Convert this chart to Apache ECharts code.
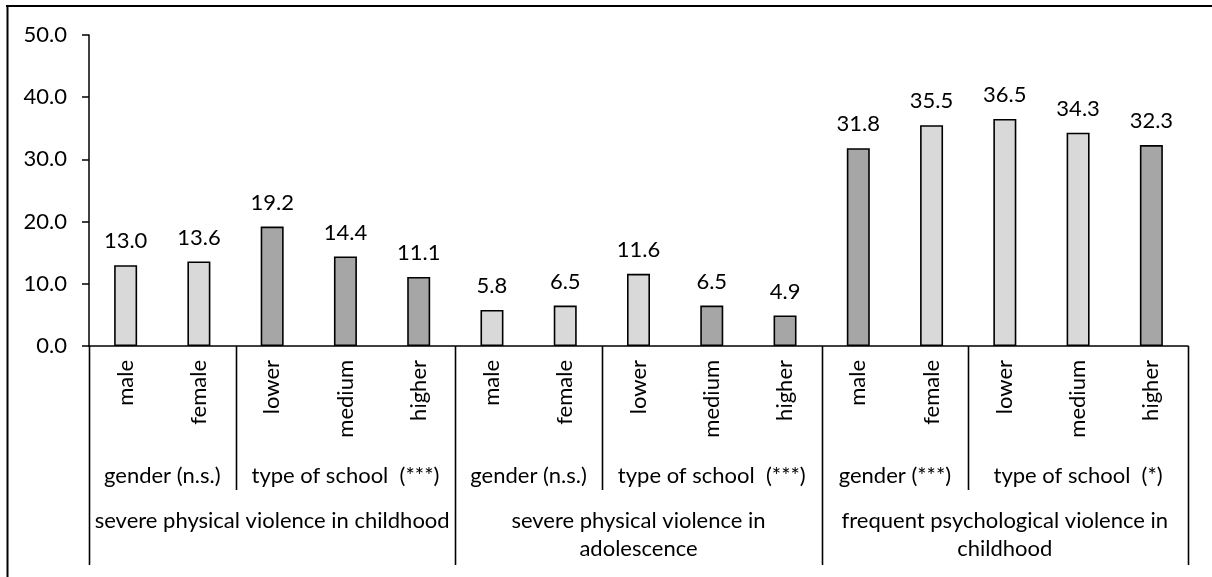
<!DOCTYPE html>
<html>
<head>
<meta charset="utf-8">
<title>Violence experiences by gender and type of school</title>
<script src="https://cdn.jsdelivr.net/npm/echarts@6/dist/echarts.min.js"></script>
<style>
  html, body { margin: 0; padding: 0; background: #fff; }
  #chart { width: 1212px; height: 577px; }
</style>
</head>
<body>
<div id="chart"></div>
<script>
// Bar categories (labels under each bar)
const categories = [
  'male', 'female', 'lower', 'medium', 'higher',
  'male', 'female', 'lower', 'medium', 'higher',
  'male', 'female', 'lower', 'medium', 'higher'
];

// Percentages shown above the bars
const values = [13.0, 13.6, 19.2, 14.4, 11.1, 5.8, 6.5, 11.6, 6.5, 4.9, 31.8, 35.5, 36.5, 34.3, 32.3];

// Fill shade of each bar
const shades = [
  'light', 'light', 'dark', 'dark', 'dark',
  'light', 'light', 'light', 'dark', 'dark',
  'dark', 'light', 'light', 'light', 'dark'
];

// Second label row: comparison groups, spanning [from, to) category slots
const subgroupLabels = ['gender (n.s.)', 'type of school  (***)', 'gender (n.s.)', 'type of school  (***)', 'gender (***)', 'type of school  (*)'];
const subgroupFrom = [0, 2, 5, 7, 10, 12];
const subgroupTo = [2, 5, 7, 10, 12, 15];

// Third label row: outcome measures
const topicLabels = ['severe physical violence in childhood', 'severe physical violence in\nadolescence', 'frequent psychological violence in\nchildhood'];
const topicFrom = [0, 5, 10];
const topicTo = [5, 10, 15];

// Y axis range
const yMin = 0, yMax = 50, yStep = 10;

const FONT = 'Lato, "Liberation Sans", sans-serif';
const FS = 22;
const fills = { light: '#d9d9d9', dark: '#a6a6a6' };

// Layout of the plot and label band
const plotLeft = 89, plotRight = 24, plotTop = 35, plotBottom = 346;
const bandBottom = 565;
const bandH = bandBottom - plotBottom;
const subSepEnd = (490 - plotBottom) / bandH;   // fraction of band height
const subTextTop = (462 - plotBottom) / bandH;
const topicTextTop = (507 - plotBottom) / bandH;

const chart = echarts.init(document.getElementById('chart'), null, { renderer: 'canvas' });

// Separator lines: inner ones between comparison groups, full ones between measures
const separators = [];
topicFrom.forEach(f => separators.push([f, 1]));
separators.push([topicTo[topicTo.length - 1], 1]);
subgroupFrom.forEach(f => { if (topicFrom.indexOf(f) < 0) separators.push([f, subSepEnd]); });

const bandLabels = [];
subgroupLabels.forEach((t, i) => bandLabels.push([subgroupFrom[i], subgroupTo[i], subTextTop, t]));
topicLabels.forEach((t, i) => bandLabels.push([topicFrom[i], topicTo[i], topicTextTop, t]));

const option = {
  animation: false,
  backgroundColor: '#fff',
  textStyle: { fontFamily: FONT, color: '#000' },
  graphic: [
    { type: 'line', shape: { x1: 6, y1: 6, x2: 1212, y2: 6 }, style: { stroke: '#000', lineWidth: 2 } },
    { type: 'line', shape: { x1: 7.5, y1: 5, x2: 7.5, y2: 577 }, style: { stroke: '#000', lineWidth: 2 } }
  ],
  grid: [
    { left: plotLeft, right: plotRight, top: plotTop, height: plotBottom - plotTop, containLabel: false },
    { left: plotLeft, right: plotRight, top: plotBottom, height: bandH, containLabel: false }
  ],
  xAxis: [
    {
      type: 'category',
      gridIndex: 0,
      data: categories,
      axisLine: { lineStyle: { color: '#000', width: 1.5 } },
      axisTick: { show: false },
      axisLabel: {
        interval: 0, rotate: 90, margin: 14,
        color: '#000', fontFamily: FONT, fontSize: FS
      },
      splitLine: { show: false }
    },
    {
      type: 'value', gridIndex: 1, min: 0, max: categories.length,
      show: false
    }
  ],
  yAxis: [
    {
      type: 'value', gridIndex: 0,
      min: yMin, max: yMax, interval: yStep,
      axisLine: { show: true, lineStyle: { color: '#000', width: 1.5 } },
      axisTick: { show: true, inside: false, length: 7, lineStyle: { color: '#000', width: 1.5 } },
      axisLabel: {
        margin: 22, color: '#000', fontFamily: FONT, fontSize: FS,
        formatter: v => v.toFixed(1)
      },
      splitLine: { show: false }
    },
    {
      type: 'value', gridIndex: 1, min: 0, max: 1, inverse: true, show: false
    }
  ],
  series: [
    {
      type: 'bar',
      xAxisIndex: 0, yAxisIndex: 0,
      barWidth: 23,
      data: values.map((v, i) => ({
        value: v,
        itemStyle: { color: fills[shades[i]] }
      })),
      itemStyle: { borderColor: '#000', borderWidth: 1.6 },
      label: {
        show: true, position: 'top', distance: 13,
        color: '#000', fontFamily: FONT, fontSize: FS,
        formatter: p => p.value.toFixed(1)
      }
    },
    {
      type: 'custom',
      xAxisIndex: 1, yAxisIndex: 1,
      silent: true,
      data: separators,
      renderItem: (params, api) => {
        const a = api.coord([api.value(0), 0]);
        const b = api.coord([api.value(0), api.value(1)]);
        return {
          type: 'line',
          shape: { x1: Math.round(a[0]) + 0.5, y1: a[1], x2: Math.round(b[0]) + 0.5, y2: b[1] },
          style: { stroke: '#000', lineWidth: 1.6 }
        };
      }
    },
    {
      type: 'custom',
      xAxisIndex: 1, yAxisIndex: 1,
      silent: true,
      data: bandLabels,
      dimensions: ['from', 'to', 'top', 'text'],
      renderItem: (params, api) => {
        const item = bandLabels[params.dataIndex];
        const a = api.coord([item[0], item[2]]);
        const b = api.coord([item[1], item[2]]);
        return {
          type: 'text',
          style: {
            x: (a[0] + b[0]) / 2, y: a[1],
            text: item[3],
            align: 'center', verticalAlign: 'top',
            lineHeight: 28,
            font: FS + 'px ' + FONT,
            fill: '#000'
          }
        };
      }
    }
  ]
};

chart.setOption(option);
</script>
</body>
</html>
